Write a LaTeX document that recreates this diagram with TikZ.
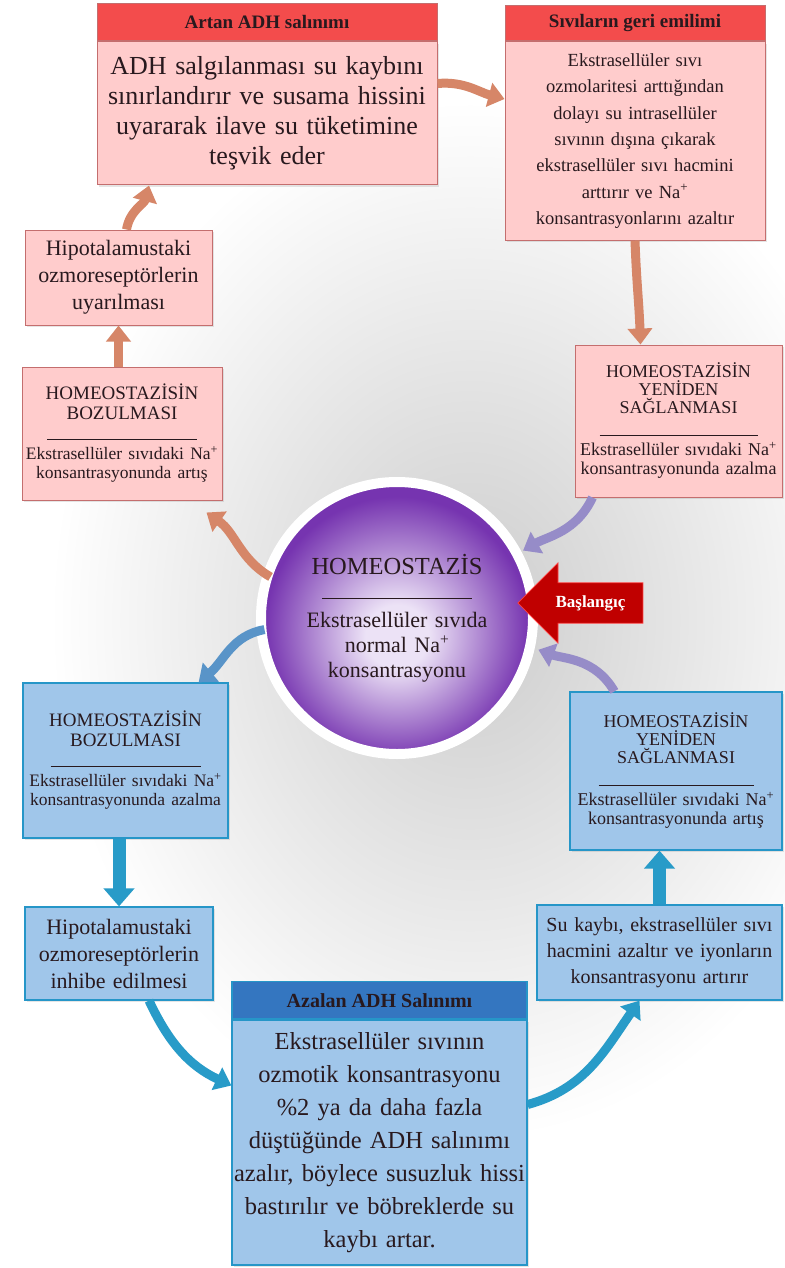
\documentclass[tikz,border=0pt]{standalone}
\usepackage{fontspec}
\setmainfont{Liberation Serif}
\usetikzlibrary{arrows.meta,shapes.arrows,shadows,backgrounds}

\definecolor{pinkbg}{RGB}{255,204,204}
\definecolor{pinkline}{RGB}{196,110,110}
\definecolor{redhead}{RGB}{243,76,76}
\definecolor{bluebg}{RGB}{160,198,234}
\definecolor{blueline}{RGB}{38,150,200}
\definecolor{bluehead}{RGB}{52,118,192}
\definecolor{salmon}{RGB}{214,134,104}
\definecolor{lavender}{RGB}{150,140,200}
\definecolor{flowblue}{RGB}{40,155,200}
\definecolor{circout}{RGB}{118,52,176}
\definecolor{circin}{RGB}{236,226,246}
\definecolor{startred}{RGB}{192,0,0}
\definecolor{inktext}{RGB}{40,25,30}

\pgfdeclareradialshading{homeoshade}{\pgfpoint{0bp}{-4bp}}{color(0bp)=(circin); color(6bp)=(circin); color(25bp)=(circout); color(50bp)=(circout)}

\begin{document}
\begin{tikzpicture}[
        x=1pt, y=1pt,
        pinkbox/.style={draw=pinkline, fill=pinkbg, line width=1pt, align=center, inner xsep=2pt, text=inktext,
            drop shadow={opacity=0.2, shadow xshift=2pt, shadow yshift=-2pt}},
        bluebox/.style={draw=blueline, fill=bluebg, line width=1.2pt, align=center, inner xsep=2pt, text=inktext,
            drop shadow={opacity=0.2, shadow xshift=2pt, shadow yshift=-2pt}},
        redhd/.style={draw=pinkline, fill=redhead, line width=1pt, inner sep=0pt, text=inktext, font=\bfseries\fontsize{19}{22}\selectfont},
        bluehd/.style={draw=blueline, fill=bluehead, line width=1.2pt, inner sep=0pt, text=inktext, font=\bfseries\fontsize{20}{22}\selectfont},
        homeo/.style={circle, shading=homeoshade, draw=white, line width=2pt, inner sep=0pt, align=center, text=inktext},
        startarrow/.style={single arrow, shape border rotate=180, fill=startred, draw=red!75!white, thick, text=white,
            font=\bfseries\fontsize{17}{17}\selectfont, minimum height=125pt, inner xsep=4pt, inner ysep=12pt, single arrow head extend=20pt},
        flow/.style={draw=#1, line width=9pt, -{Triangle[width=24pt,length=16pt]}},
        bigflow/.style={draw=#1, line width=13pt, -{Triangle[width=30pt,length=18pt]}},
    ]
    \useasboundingbox (0,0) rectangle (784,-1268);

    % upper half: rising Na+
    \node[pinkbox, text width=336pt, minimum height=143pt, font=\fontsize{26}{30}\selectfont] (adh) at (267,-113.5)
        {ADH salgılanması su kaybını\\sınırlandırır ve susama hissini\\uyararak ilave su tüketimine\\teşvik eder};
    \node[redhd, minimum width=340pt, minimum height=37pt, anchor=south] (adhhd) at (adh.north) {Artan ADH salınımı};
    \node[pinkbox, text width=256pt, minimum height=198pt, font=\fontsize{18.5}{26.3}\selectfont] (sivi) at (635,-141)
        {Ekstrasellüler sıvı\\ozmolaritesi arttığından\\dolayı su intrasellüler\\sıvının dışına çıkarak\\ekstrasellüler sıvı hacmini\\arttırır ve Na\textsuperscript{+}\\konsantrasyonlarını azaltır};
    \node[redhd, minimum width=260pt, minimum height=35pt, anchor=south] (sivihd) at (sivi.north) {Sıvıların geri emilimi};
    \node[pinkbox, text width=183pt, minimum height=95pt, font=\fontsize{22}{27}\selectfont] (hipup) at (118.5,-277.5)
        {Hipotalamustaki\\ozmoreseptörlerin\\uyarılması};
    \node[pinkbox, text width=196pt, minimum height=133pt, font=\fontsize{19}{20}\selectfont] (bozup) at (122,-433.5)
        {HOMEOSTAZİSİN\\BOZULMASI\par\rule{150pt}{1pt}\par{\fontsize{17.5}{19.5}\selectfont Ekstrasellüler sıvıdaki Na\textsuperscript{+}\\konsantrasyonunda artış\par}};
    \node[pinkbox, text width=203pt, minimum height=152pt, font=\fontsize{18}{18}\selectfont] (yenup) at (678.5,-421)
        {HOMEOSTAZİSİN\\YENİDEN\\SAĞLANMASI\par\vspace{4pt}\rule{158pt}{1pt}\par{\fontsize{18}{19.5}\selectfont Ekstrasellüler sıvıdaki Na\textsuperscript{+}\\konsantrasyonunda azalma\par}};

    % centre
    \node[homeo, minimum size=264pt, text width=200pt, font=\fontsize{22}{25}\selectfont] (circ) at (397,-618)
        {{\fontsize{24.5}{28}\selectfont HOMEOSTAZİS\par}\rule{150pt}{1.5pt}\par\vspace{3pt}Ekstrasellüler sıvıda\\normal Na\textsuperscript{+}\\konsantrasyonu};
    \node[startarrow] (bas) at (590.5,-603) {Başlangıç};

    % lower half: falling Na+
    \node[bluebox, text width=201pt, minimum height=155pt, font=\fontsize{19}{20}\selectfont] (bozdn) at (125.5,-760.5)
        {HOMEOSTAZİSİN\\BOZULMASI\par\rule{150pt}{1pt}\par{\fontsize{17.5}{19.5}\selectfont Ekstrasellüler sıvıdaki Na\textsuperscript{+}\\konsantrasyonunda azalma\par}};
    \node[bluebox, text width=184pt, minimum height=93pt, font=\fontsize{22}{27}\selectfont] (hipdn) at (119,-953.5)
        {Hipotalamustaki\\ozmoreseptörlerin\\inhibe edilmesi};
    \node[bluebox, text width=208pt, minimum height=158pt, font=\fontsize{18}{18}\selectfont] (yendn) at (676,-771)
        {HOMEOSTAZİSİN\\YENİDEN\\SAĞLANMASI\par\vspace{4pt}\rule{155pt}{1pt}\par{\fontsize{18}{19.5}\selectfont Ekstrasellüler sıvıdaki Na\textsuperscript{+}\\konsantrasyonunda artış\par}};
    \node[bluebox, text width=243pt, inner xsep=1pt, minimum height=95pt, font=\fontsize{20}{26}\selectfont] (su) at (659.5,-952.5)
        {Su kaybı, ekstrasellüler sıvı\\hacmini azaltır ve iyonların\\konsantrasyonu artırır};
    \node[bluebox, text width=291pt, minimum height=245pt, font=\fontsize{24.5}{33}\selectfont] (azal) at (379.5,-1142.5)
        {Ekstrasellüler sıvının\\ozmotik konsantrasyonu\\\%2 ya da daha fazla\\düştüğünde ADH salınımı\\azalır, böylece susuzluk hissi\\bastırılır ve böbreklerde su\\kaybı artar.};
    \node[bluehd, minimum width=295pt, minimum height=37pt, anchor=south] (azalhd) at (azal.north) {Azalan ADH Salınımı};

    % cycle arrows
    \draw[flow=salmon] (circ.162) to[out=150, in=-35] ([xshift=-16pt, yshift=-12pt]bozup.south east);
    \draw[flow=salmon] (bozup.north -| hipup.south) -- (hipup.south);
    \draw[flow=salmon] ([xshift=8pt]hipup.north) to[out=80, in=-105] ([xshift=-118pt]adh.south);
    \draw[flow=salmon] ([yshift=30pt]adh.east) to[out=5, in=165] ([yshift=42pt]sivi.west);
    \draw[flow=salmon] (sivi.south) to[out=-88, in=92] ([xshift=-38pt]yenup.north);
    \draw[flow=lavender, shorten >=10pt] ([xshift=18pt]yenup.south west) to[out=-115, in=30] (circ.28);
    \draw[flow=lavender!45!flowblue] (circ.185) to[out=190, in=40] ([xshift=-30pt]bozdn.north east);
    \draw[bigflow=flowblue] (bozdn.south -| hipdn.north) -- (hipdn.north);
    \draw[flow=flowblue] ([xshift=30pt]hipdn.south) to[out=-65, in=155] ([yshift=57pt]azal.west);
    \draw[flow=flowblue] ([yshift=38pt]azal.east) to[out=15, in=-125] ([xshift=-20pt]su.south);
    \draw[bigflow=flowblue] (su.north) -- (su.north |- yendn.south);
    \draw[flow=lavender, shorten >=12pt] ([xshift=45pt]yendn.north west) to[out=120, in=-20] (circ.-12);

    \begin{scope}[on background layer]
        \fill[white] (0,0) rectangle (784,-1268);
        \shade[inner color=gray!40, outer color=white] (470,-620) ellipse (420 and 520);
        \fill[white] (circ.center) circle (141);
    \end{scope}
\end{tikzpicture}
\end{document}
